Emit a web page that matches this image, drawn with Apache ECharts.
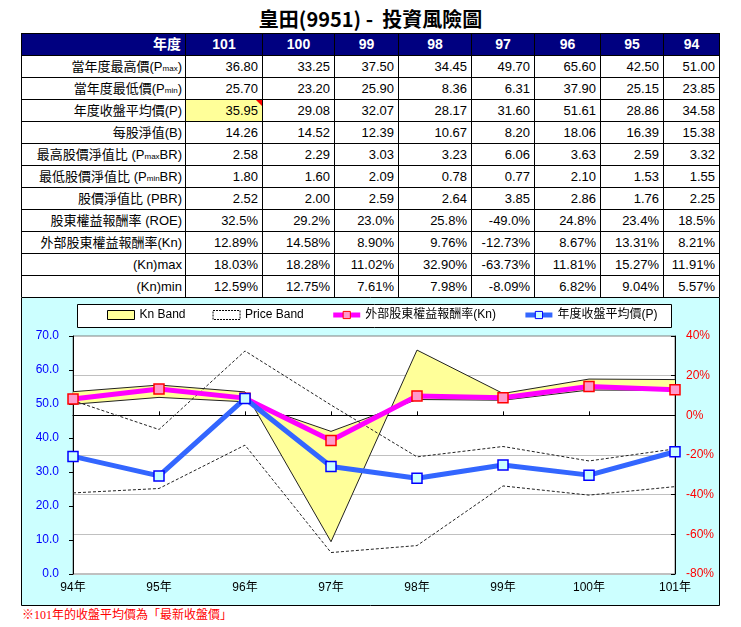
<!DOCTYPE html>
<html>
<head>
<meta charset="utf-8">
<script src="https://cdn.jsdelivr.net/npm/echarts@6/dist/echarts.min.js"></script>
<style>
  html, body { margin: 0; padding: 0; background: #fff; }
  body { width: 741px; height: 627px; position: relative; overflow: hidden; }
  #title { position: absolute; left: 0; top: 6px; width: 741px; text-align: center;
    font: bold 20px 'Noto Sans CJK TC', sans-serif; line-height: 26px; color: #000; }
  .cell { position: absolute; box-sizing: border-box; border: 1px solid #000; white-space: nowrap;
    overflow: hidden; font: 13px 'Liberation Sans', 'Noto Sans CJK TC', sans-serif; color: #000;
    text-align: right; padding-right: 4px; background: #fff; }
  .hdr { background: #000080; color: #fff; font-weight: bold; font-size: 14px; text-align: center; padding-right: 0; }
  .hdr.first { text-align: right; padding-right: 4px; }
  .lbl { padding-right: 3px; }
  .hl { background: #FFFF99; }
  .hl::after { content: ''; position: absolute; right: 0; top: 0; width: 0; height: 0;
    border-top: 6px solid #ff0000; border-left: 6px solid transparent; }
  .s { font-size: 8px; }
  #chart { position: absolute; left: 21px; top: 297px; width: 699px; height: 309px; }
  #note { position: absolute; left: 22px; top: 606px; color: #ff0000;
    font: 12px 'Liberation Serif', 'Noto Sans CJK TC', serif; line-height: 18px; }
</style>
</head>
<body>
<div id="title">皇田(9951) -&nbsp; 投資風險圖</div>
<div id="table"></div>
<div id="chart"></div>
<div id="note">※101年的收盤平均價為「最新收盤價」</div>
<script>
// ---- data (table order: 101 -> 94) ----
const years = ['101', '100', '99', '98', '97', '96', '95', '94'];
const pMax = [36.80, 33.25, 37.50, 34.45, 49.70, 65.60, 42.50, 51.00];
const pMin = [25.70, 23.20, 25.90, 8.36, 6.31, 37.90, 25.15, 23.85];
const pAvg = [35.95, 29.08, 32.07, 28.17, 31.60, 51.61, 28.86, 34.58];
const bookValue = [14.26, 14.52, 12.39, 10.67, 8.20, 18.06, 16.39, 15.38];
const pMaxBR = [2.58, 2.29, 3.03, 3.23, 6.06, 3.63, 2.59, 3.32];
const pMinBR = [1.80, 1.60, 2.09, 0.78, 0.77, 2.10, 1.53, 1.55];
const pbr = [2.52, 2.00, 2.59, 2.64, 3.85, 2.86, 1.76, 2.25];
const roe = [32.5, 29.2, 23.0, 25.8, -49.0, 24.8, 23.4, 18.5];
const kn = [12.89, 14.58, 8.90, 9.76, -12.73, 8.67, 13.31, 8.21];
const knMax = [18.03, 18.28, 11.02, 32.90, -63.73, 11.81, 15.27, 11.91];
const knMin = [12.59, 12.75, 7.61, 7.98, -8.09, 6.82, 9.04, 5.57];
const rowLabels = [
  '當年度最高價(P<span class="s">max</span>)',
  '當年度最低價(P<span class="s">min</span>)',
  '年度收盤平均價(P)',
  '每股淨值(B)',
  '最高股價淨值比 (P<span class="s">max</span>BR)',
  '最低股價淨值比 (P<span class="s">min</span>BR)',
  '股價淨值比 (PBR)',
  '股東權益報酬率 (ROE)',
  '外部股東權益報酬率(Kn)',
  '(Kn)max',
  '(Kn)min'
];
const headerLabel = '年度';
const yearSuffix = '年';
const legendNames = ['Kn Band', 'Price Band', '外部股東權益報酬率(Kn)', '年度收盤平均價(P)'];
const priceAxisRange = { min: 0, max: 70, interval: 10 };
const knAxisRange = { min: -80, max: 40, interval: 20 };

// ---- table ----
const colX = [21, 185, 262, 334, 398, 471, 534, 600, 663, 719];
const rowY0 = 33, rowH = 22;
const f2 = v => v.toFixed(2);
const p1 = v => v.toFixed(1) + '%';
const p2 = v => v.toFixed(2) + '%';
const rows = [
  [pMax, f2], [pMin, f2], [pAvg, f2], [bookValue, f2], [pMaxBR, f2], [pMinBR, f2],
  [pbr, f2], [roe, p1], [kn, p2], [knMax, p2], [knMin, p2]
];
const tbl = document.getElementById('table');
function addCell(c, r, html, cls) {
  const d = document.createElement('div');
  d.className = 'cell ' + (cls || '');
  const x0 = colX[c], x1 = colX[c + 1];
  const y0 = rowY0 + r * rowH;
  d.style.left = x0 + 'px';
  d.style.top = y0 + 'px';
  d.style.width = (x1 - x0 + 1) + 'px';
  d.style.height = (rowH + 1) + 'px';
  d.style.lineHeight = (rowH - 1) + 'px';
  d.innerHTML = html;
  tbl.appendChild(d);
}
addCell(0, 0, headerLabel, 'hdr first');
years.forEach((y, i) => addCell(i + 1, 0, y, 'hdr'));
rows.forEach((row, r) => {
  addCell(0, r + 1, rowLabels[r], 'lbl');
  row[0].forEach((v, i) => {
    addCell(i + 1, r + 1, row[1](v), (r === 2 && i === 0) ? 'hl' : '');
  });
});

// ---- chart (chronological order: 94 -> 101) ----
const rev = a => a.slice().reverse();
const cats = rev(years).map(y => y + yearSuffix);
const cKnMin = rev(knMin);
const cKnDiff = rev(knMax).map((v, i) => +(v - cKnMin[i]).toFixed(2));
const cPMax = rev(pMax), cPMin = rev(pMin), cPAvg = rev(pAvg), cKn = rev(kn);

const font = "'Liberation Sans', 'Noto Sans CJK TC', sans-serif";
const chart = echarts.init(document.getElementById('chart'), null, { renderer: 'canvas' });
const dashed = { color: '#222', width: 1, type: [3, 2] };
chart.setOption({
  animation: false,
  backgroundColor: '#CCFFFF',
  textStyle: { fontFamily: font },
  graphic: [
    { type: 'rect', shape: { x: 0.5, y: 0.5, width: 698, height: 308 },
      style: { fill: 'none', stroke: '#000', lineWidth: 1 }, z: 100 },
    { type: 'rect', shape: { x: 56.5, y: 7.5, width: 594, height: 23 },
      style: { fill: '#fff', stroke: '#000', lineWidth: 1 }, z: -1 }
  ],
  legend: {
    left: 86, top: 12, padding: 0, itemGap: 27, itemWidth: 27, itemHeight: 9,
    selectedMode: false,
    textStyle: { fontSize: 12, color: '#000', fontFamily: font },
    data: [
      { name: legendNames[0], icon: 'rect', itemStyle: { color: '#FFFF99', borderColor: '#000', borderWidth: 1 } },
      { name: legendNames[1], icon: 'rect', itemStyle: { color: '#fff', borderColor: '#000', borderWidth: 1, borderType: [2, 1] } },
      { name: legendNames[2], lineStyle: { width: 5, color: '#FF00FF' }, itemStyle: { color: '#FF99CC', borderColor: '#FF0000', borderWidth: 1 } },
      { name: legendNames[3], lineStyle: { width: 5, color: '#3366FF' }, itemStyle: { color: '#CCFFFF', borderColor: '#0000FF', borderWidth: 1 } }
    ]
  },
  grid: { left: 52, right: 45, top: 39, bottom: 32, show: true, backgroundColor: '#fff',
    borderColor: '#808080', borderWidth: 1 },
  xAxis: [
    { type: 'category', data: cats, boundaryGap: false, position: 'bottom',
      axisLine: { onZero: true, onZeroAxisIndex: 1, lineStyle: { color: '#000', width: 1 } },
      axisTick: { show: true, inside: true, length: 4, lineStyle: { color: '#000' } },
      axisLabel: { show: false }, splitLine: { show: false } },
    { type: 'category', data: cats, boundaryGap: false, position: 'bottom',
      axisLine: { show: false, onZero: false }, axisTick: { show: false },
      axisLabel: { show: true, color: '#000', fontSize: 12, margin: 8 }, splitLine: { show: false } }
  ],
  yAxis: [
    { type: 'value', position: 'left', min: priceAxisRange.min, max: priceAxisRange.max,
      interval: priceAxisRange.interval,
      axisLine: { show: true, onZero: false, lineStyle: { color: '#000' } },
      axisTick: { show: true, length: 4, lineStyle: { color: '#000' } },
      axisLabel: { color: '#0000FF', fontSize: 12, margin: 14, formatter: v => v.toFixed(1) },
      splitLine: { show: false } },
    { type: 'value', position: 'right', min: knAxisRange.min, max: knAxisRange.max,
      interval: knAxisRange.interval,
      axisLine: { show: true, onZero: false, lineStyle: { color: '#000' } },
      axisTick: { show: true, inside: true, length: 4, lineStyle: { color: '#000' } },
      axisLabel: { color: '#FF0000', fontSize: 12, margin: 11, formatter: v => v + '%' },
      splitLine: { show: true, lineStyle: { color: '#C0C0C0', width: 1 } } }
  ],
  series: [
    { name: legendNames[0], type: 'line', yAxisIndex: 1, data: cKnMin, stack: 'kn', stackStrategy: 'all',
      symbol: 'none', lineStyle: { color: '#222', width: 1 }, itemStyle: { color: '#FFFF99' }, z: 1 },
    { name: legendNames[0], type: 'line', yAxisIndex: 1, data: cKnDiff, stack: 'kn', stackStrategy: 'all',
      symbol: 'none', lineStyle: { color: '#222', width: 1 },
      areaStyle: { color: '#FFFF99', opacity: 1 }, itemStyle: { color: '#FFFF99' }, z: 1 },
    { name: legendNames[1], type: 'line', yAxisIndex: 0, data: cPMax, symbol: 'none',
      lineStyle: dashed, itemStyle: { color: '#fff' }, z: 2 },
    { name: legendNames[1], type: 'line', yAxisIndex: 0, data: cPMin, symbol: 'none',
      lineStyle: dashed, itemStyle: { color: '#fff' }, z: 2 },
    { name: legendNames[2], type: 'line', yAxisIndex: 1, data: cKn, symbol: 'rect', symbolSize: 10,
      lineStyle: { color: '#FF00FF', width: 5 },
      itemStyle: { color: '#FF99CC', borderColor: '#FF0000', borderWidth: 1.5 }, z: 3 },
    { name: legendNames[3], type: 'line', yAxisIndex: 0, data: cPAvg, symbol: 'rect', symbolSize: 10,
      lineStyle: { color: '#3366FF', width: 5 },
      itemStyle: { color: '#CCFFFF', borderColor: '#0000FF', borderWidth: 1.5 }, z: 4 }
  ]
});
</script>
</body>
</html>
